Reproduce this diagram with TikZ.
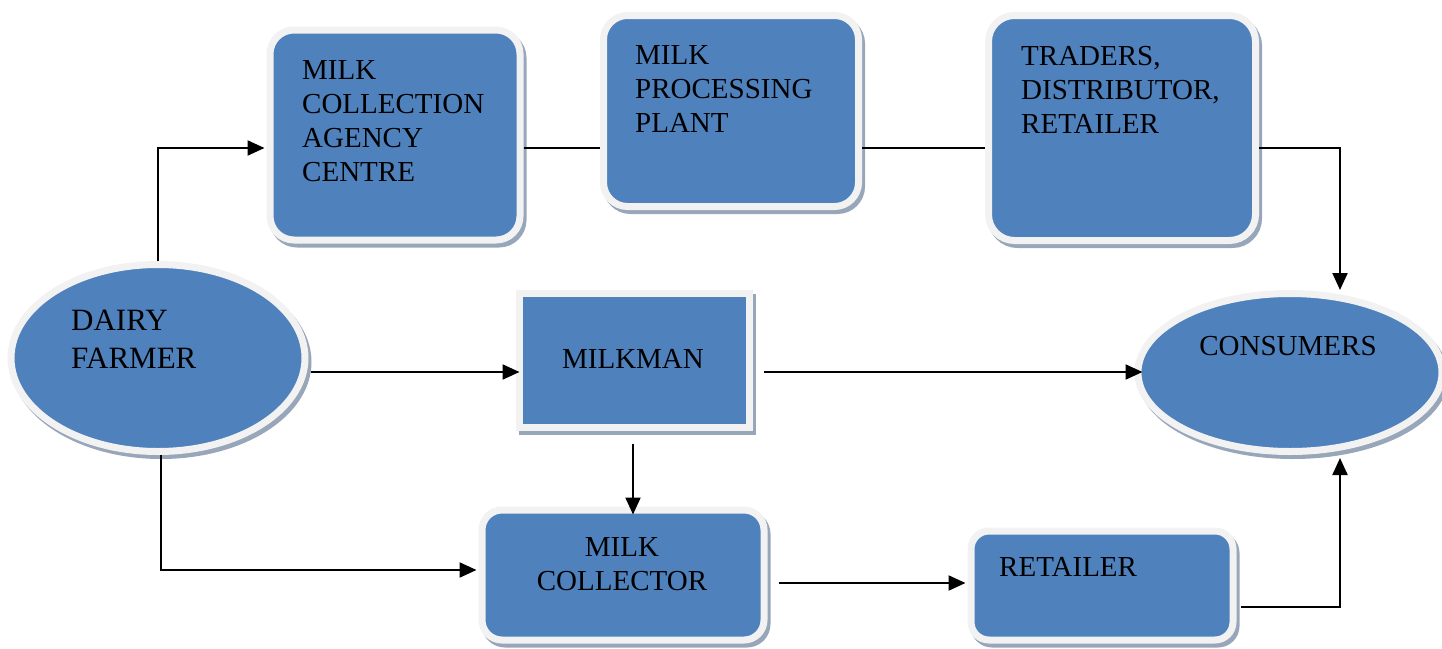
\documentclass[tikz,border=0pt]{standalone}
\usepackage{fontspec}
\setmainfont{Liberation Serif}
\usetikzlibrary{arrows.meta,shapes.geometric,shadows}
\definecolor{boxblue}{HTML}{4F81BD}
\definecolor{rimgray}{HTML}{F2F2F2}
\definecolor{shadowc}{HTML}{98A6BA}
\tikzset{
  shapebase/.style={fill=boxblue, draw=rimgray, line width=7pt, inner sep=0pt,
    drop shadow={shadow xshift=3pt, shadow yshift=-4pt, fill=shadowc, draw=shadowc, line width=7pt, opacity=1}},
  rbox/.style={shapebase, rectangle, rounded corners=#1},
  sbox/.style={shapebase, rectangle},
  ebox/.style={shapebase, ellipse},
  txt/.style={inner sep=0pt, font=\fontsize{29}{34}\selectfont},
  conn/.style={draw=black, line width=2.2pt},
  arr/.style={conn, -{Triangle[length=17pt,width=15pt]}}
}
\begin{document}
\begin{tikzpicture}[x=1pt,y=-1pt]
\useasboundingbox (0,0) rectangle (1442,648);
% shapes
\node[rbox=24pt, minimum width=250pt, minimum height=210pt] (agency) at (395,135) {};
\node[rbox=24pt, minimum width=255pt, minimum height=191pt] (proc) at (731,111) {};
\node[rbox=26pt, minimum width=267pt, minimum height=225pt] (traders) at (1122,128) {};
\node[ebox, minimum width=294pt, minimum height=187pt] (dairy) at (158,358) {};
\node[sbox, minimum width=230pt, minimum height=134pt] (milkman) at (634,360) {};
\node[ebox, minimum width=304pt, minimum height=158pt] (consumers) at (1290,372.5) {};
\node[rbox=20pt, minimum width=282pt, minimum height=130pt] (collector) at (623,575) {};
\node[rbox=18pt, minimum width=262pt, minimum height=109pt] (retailer) at (1102,585.5) {};
% texts
\node[txt, anchor=base west] (tagency) at (302,79) {\begin{tabular}[t]{@{}l@{}}MILK\\COLLECTION\\AGENCY\\CENTRE\end{tabular}};
\node[txt, anchor=base west] (tproc) at (635,64) {\begin{tabular}[t]{@{}l@{}}MILK\\PROCESSING\\PLANT\end{tabular}};
\node[txt, anchor=base west] (ttraders) at (1021,65) {\begin{tabular}[t]{@{}l@{}}TRADERS,\\DISTRIBUTOR,\\RETAILER\end{tabular}};
\node[txt, anchor=base west, font=\fontsize{31}{38}\selectfont] (tdairy) at (71,330) {\begin{tabular}[t]{@{}l@{}}DAIRY\\FARMER\end{tabular}};
\node[txt, anchor=base] (tmilkman) at (633,368) {MILKMAN};
\node[txt, anchor=base] (tconsumers) at (1288,355) {CONSUMERS};
\node[txt, anchor=base] (tcollector) at (622,556) {\begin{tabular}[t]{@{}c@{}}MILK\\COLLECTOR\end{tabular}};
\node[txt, anchor=base west] (tretailer) at (999,576) {RETAILER};
% levels
\coordinate (r1) at (0,148);
\coordinate (r2) at (0,372);
\coordinate (r3) at (0,570);
\coordinate (r4) at (0,583);
\coordinate (r5) at (0,607);
\coordinate (c1) at (1340,0);
\coordinate (c2) at (633,0);
% connectors
\draw[arr] (dairy.north) |- ([xshift=-2pt]agency.west |- r1);
\draw[conn] (agency.east |- r1) -- (proc.west |- r1);
\draw[conn] (proc.east |- r1) -- (traders.west |- r1);
\draw[arr] (traders.east |- r1) -| (c1 |- consumers.north);
\draw[arr, shorten <=2pt, shorten >=-4pt] (dairy.east |- r2) -- (milkman.west |- r2);
\draw[arr, shorten <=11pt, shorten >=-8pt] (milkman.east |- r2) -- (consumers.west |- r2);
\draw[arr, shorten <=13pt, shorten >=-8pt] (milkman.south -| c2) -- (collector.north -| c2);
\draw[arr] ([xshift=3pt]dairy.south) |- ([xshift=-2pt]collector.west |- r3);
\draw[arr, shorten <=11pt] (collector.east |- r4) -- ([xshift=-2pt]retailer.west |- r4);
\draw[arr, shorten <=4pt] (retailer.east |- r5) -| ([yshift=-3pt]c1 |- consumers.south);
\end{tikzpicture}
\end{document}
